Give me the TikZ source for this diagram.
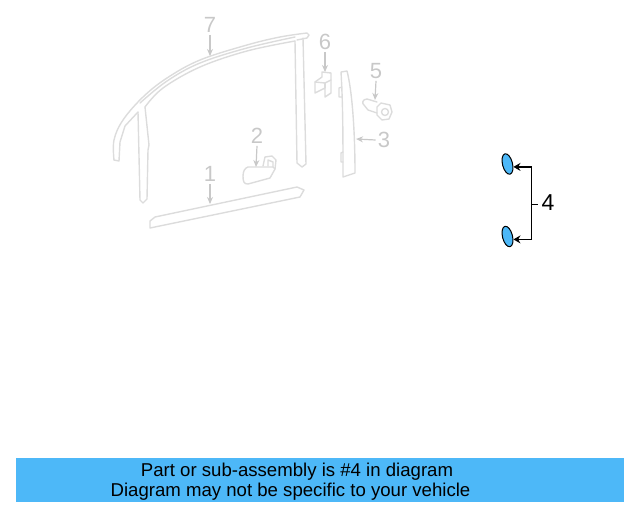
\documentclass[tikz,border=0pt]{standalone}
\usepackage{fontspec}
\setmainfont{Liberation Sans}
\usetikzlibrary{arrows.meta,shapes.geometric}
\definecolor{partgray}{HTML}{DCDCDC}
\definecolor{labelgray}{HTML}{C8C8C8}
\definecolor{clipblue}{HTML}{4DB8F8}
\tikzset{
    part/.style={draw=partgray,line width=1.4pt,line join=round,line cap=round},
    partnum/.style={text=labelgray,font=\fontsize{22}{22}\selectfont,inner sep=0pt},
    callgray/.style={draw=labelgray,line width=1.2pt,-{Stealth[length=7pt,width=6pt]}},
    clip4/.style={ellipse,draw=black,fill=clipblue,line width=1pt,minimum width=10pt,minimum height=21pt,inner sep=0pt,rotate=14},
    call4/.style={draw=black,line width=1.4pt,-{Stealth[length=7pt,width=8pt]}},
    banner/.style={font=\fontsize{18.6}{18.6}\selectfont,inner sep=0pt,text=black}
}
\begin{document}
\begin{tikzpicture}[x=1pt,y=-1pt]
    \useasboundingbox (0,0) rectangle (640,512);

    % window frame
    \draw [part] plot [smooth,tension=.6] coordinates {(114,160) (114,140) (123,120) (143,97) (167,78) (200,60) (247,45) (280,37) (307,33)}
        -- (309,35) -- (307,38) -- (297,40);
    \draw [part] (114,160) -- (119,161) -- (120,142) -- (125,126) -- (138,112);
    \draw [part] plot [smooth,tension=.6] coordinates {(140,103) (167,81) (200,63) (247,48) (295,37)};
    \draw [part] plot [smooth,tension=.6] coordinates {(145,107) (163,88) (200,67) (247,51) (295,41)};
    % front pillar
    \draw [part] (138,112) -- (140,200) -- (143,203) -- (147,199) -- (148,150) -- (149,145) -- (145,107);
    % rear pillar
    \draw [part] (295,41) -- (297,163) -- (302,167) -- (306,164) -- (303,38);
    % lower moulding
    \draw [part] (150,221) -- (155,217) -- (297,187) -- (304,190) -- (300,197) -- (150,228) -- cycle;
    % mirror pad
    \draw [part] (248,167) -- (273,167) -- (275,169) -- (270,178) -- (248,184)
        .. controls (244,184) and (243,182) .. (243,176) .. controls (243,171) and (245,168) .. (248,167);
    \draw [part] (263,166) -- (265,157) -- (272,156) -- (276,160) -- (275,169);
    \draw [part] (268,166) -- (268,160) -- (273,162) -- (273,167);
    % bracket
    \draw [part] (315,82) -- (322,77) -- (322,72) -- (331,73) -- (331,93) -- (325,97) -- (325,88) -- (315,93) -- cycle;
    \draw [part] (315,82) -- (325,83) -- (331,80);
    \draw [part] (325,83) -- (325,88);
    % garnish
    \draw [part] (341,72) -- (347,71) .. controls (352,90) and (355,130) .. (355,173) -- (343,177)
        .. controls (343,140) and (343,105) .. (341,72);
    \draw [part] (342,87) -- (339,88) -- (339,97) -- (342,97);
    \draw [part] (343,152) -- (341,153) -- (341,162) -- (343,162);
    % bolt
    \draw [part] (377,102) -- (367,99) .. controls (362,99) and (362,104) .. (364,105) -- (368,110) -- (377,113);
    \draw [part] (381,103) -- (390,105) -- (392,112) -- (389,119) -- (382,120) -- (377,115) -- (377,107) -- cycle;
    \draw [part] (385,112) circle (3.5pt);

    % part numbers
    \node [partnum] (num7) at (210,25) {7};
    \node [partnum] (num6) at (325,42) {6};
    \node [partnum] (num5) at (376,71) {5};
    \node [partnum] (num3) at (384,140) {3};
    \node [partnum] (num2) at (257,136) {2};
    \node [partnum] (num1) at (210,174) {1};

    \foreach \n/\xe/\ye in {7/210/56,6/325/72,5/375/100,2/256/167,1/210/204}
        {\coordinate (tip\n) at (\xe,\ye);
         \draw [callgray] (num\n.south) ++(0,2) -- (tip\n);}
    \coordinate (tip3) at (356,139);
    \draw [callgray] (num3.west) ++(-2,0) -- (tip3);

    % clips
    \node [clip4] (clipa) at (507.5,164) {};
    \node [clip4] (clipb) at (507.5,236.5) {};
    \node [inner sep=0pt,font=\fontsize{23}{23}\selectfont] (num4) at (548,202.5) {4};
    \coordinate (tick4) at (531.7,204.5);
    \coordinate (tack4) at (538,204.5);
    \draw [line width=1.4pt] (tick4) -- (tack4);
    \draw [call4] (tick4) |- (clipa.-40);
    \draw [call4] (tick4) |- (clipb.-40);

    % banner
    \fill [color=clipblue] (16,458) rectangle (624,502);
    \node [banner] (line1) at (297,472) {Part or sub-assembly is \#4 in diagram};
    \node [banner] (line2) at (290.5,492) {Diagram may not be specific to your vehicle};
\end{tikzpicture}
\end{document}
